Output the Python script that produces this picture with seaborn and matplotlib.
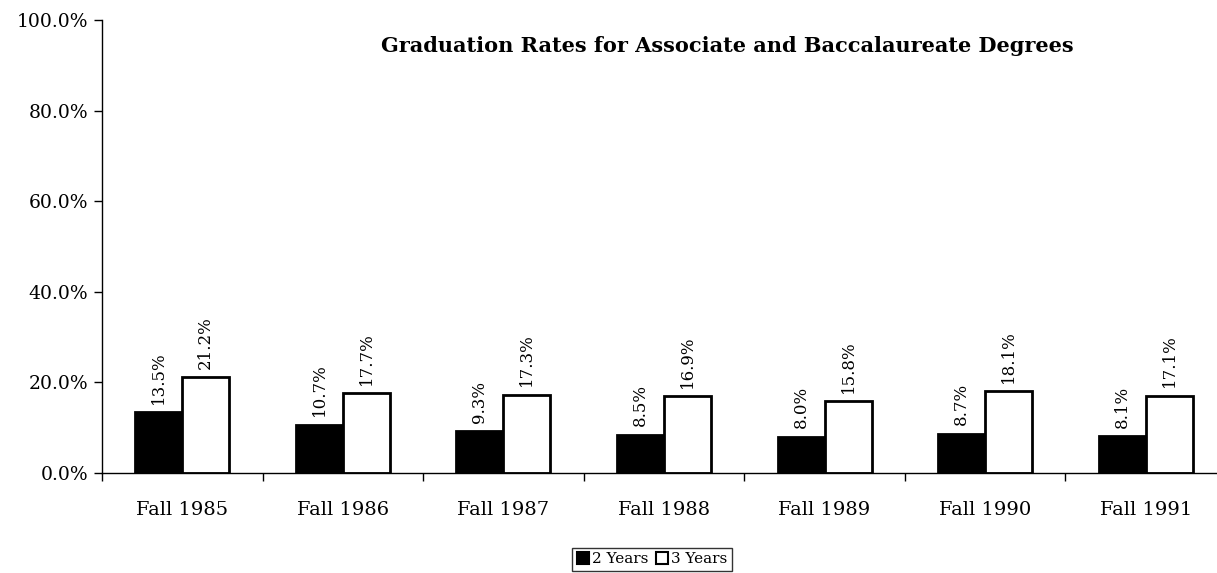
import numpy as np
import pandas as pd
import matplotlib
matplotlib.use("Agg")
import matplotlib.pyplot as plt
import seaborn as sns
from matplotlib.patches import Patch
from matplotlib.ticker import FixedLocator, FuncFormatter

terms = ["Fall 1985", "Fall 1986", "Fall 1987", "Fall 1988", "Fall 1989", "Fall 1990", "Fall 1991"]
two_years = [13.5, 10.7, 9.3, 8.5, 8.0, 8.7, 8.1]
three_years = [21.2, 17.7, 17.3, 16.9, 15.8, 18.1, 17.1]
series_names = ["2 Years", "3 Years"]
y_ticks = [0, 20, 40, 60, 80, 100]

df = pd.DataFrame({
    "term": terms * 2,
    "rate": two_years + three_years,
    "years": [series_names[0]] * len(terms) + [series_names[1]] * len(terms),
})

sns.set_style("white")
plt.rcParams['font.family'] = ['DejaVu Serif']
plt.rcParams['text.color'] = 'black'
plt.rcParams['xtick.color'] = 'black'
plt.rcParams['ytick.color'] = 'black'

fig = plt.figure(figsize=(12.17, 5.73), dpi=100)
ax = fig.add_axes([0.0838, 0.1745, 0.9236, 0.7905])

sns.barplot(data=df, x="term", y="rate", hue="years", order=terms, hue_order=series_names,
            palette=["black", "white"], edgecolor="black", linewidth=2,
            width=0.585, gap=0, ax=ax, legend=False, errorbar=None)

# rotated value labels
for cont in ax.containers:
    ax.bar_label(cont, labels=[f"{v:.1f}%" for v in cont.datavalues],
                 rotation=90, padding=6, fontsize=12, color="black")

ax.set_ylim(0, 100)
ax.set_xlim(-0.5, len(terms) - 0.5)
ax.set_yticks(y_ticks)
ax.yaxis.set_major_formatter(FuncFormatter(lambda v, p: f"{v:.1f}%"))
ax.tick_params(axis="y", direction="out", length=6, width=1, labelsize=13.5, left=True, pad=4)
ax.tick_params(axis="x", which="major", length=0, labelsize=14, pad=20)
ax.xaxis.set_minor_locator(FixedLocator(np.arange(-0.5, len(terms), 1.0)))
ax.tick_params(axis="x", which="minor", direction="out", length=6, width=1, bottom=True)
ax.set_xlabel("")
ax.set_ylabel("")

for side in ["top", "right"]:
    ax.spines[side].set_visible(False)
for side in ["left", "bottom"]:
    ax.spines[side].set_color("black")
    ax.spines[side].set_linewidth(1)

ax.set_title("Graduation Rates for Associate and Baccalaureate Degrees",
             fontsize=15, fontweight="bold", x=0.5565, y=0.91, color="black")

handles = [Patch(facecolor="black", edgecolor="black", lw=1.5),
           Patch(facecolor="white", edgecolor="black", lw=1.5)]
leg = fig.legend(handles, series_names, loc="center", bbox_to_anchor=(0.536, 0.024),
                 ncol=2, fontsize=11, frameon=True, fancybox=False, handlelength=0.8,
                 handleheight=0.8, handletextpad=0.2, columnspacing=0.5, borderpad=0.3)
leg.get_frame().set_edgecolor("black")
leg.get_frame().set_linewidth(1)

fig.savefig("out.png", dpi=100)
